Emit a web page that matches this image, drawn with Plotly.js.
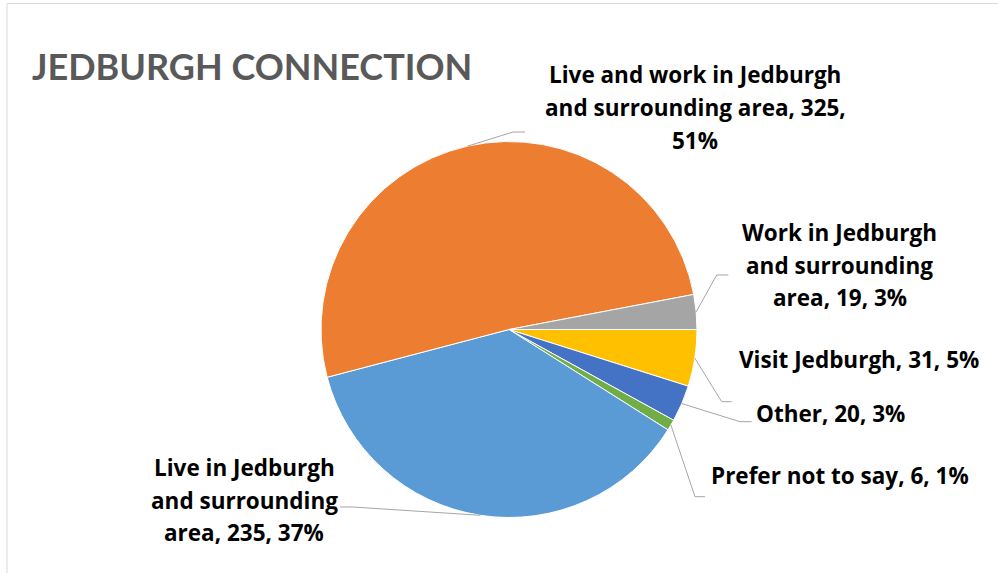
<!DOCTYPE html>
<html><head><meta charset="utf-8">
<script src="https://cdn.plot.ly/plotly-3.0.1.min.js"></script>
<style>html,body{margin:0;padding:0;background:#fff}#chart{width:998px;height:573px}</style>
</head><body><div id="chart"></div>
<script>
// ---- data ----
const categories = ["Visit Jedburgh", "Other", "Prefer not to say",
  "Live in Jedburgh and surrounding area",
  "Live and work in Jedburgh and surrounding area",
  "Work in Jedburgh and surrounding area"];
const values = [31, 20, 6, 235, 325, 19];
const colors = ["#FFC000", "#4472C4", "#70AD47", "#5B9BD5", "#ED7D31", "#A5A5A5"];
const chartTitle = "JEDBURGH CONNECTION";

// ---- layout geometry (pixels) ----
const W = 998, H = 573;
const cx = 509, cy = 329.5, R = 188;
const startAngle = 90;
const lineGap = 32.5;
const yOff = 0;
const labelLayout = [
  {wrap: 30, x: 859,   y: 359.5, elbow: [721.7, 401.7], end: [731.7, 401.7]},
  {wrap: 30, x: 830,   y: 413.5, elbow: [740, 421.7],   end: [751.7, 421.7]},
  {wrap: 30, x: 840,   y: 475.5, elbow: [695, 496.7],   end: [705, 496.7]},
  {wrap: 17, x: 244,   y: 467.5, elbow: [353, 507],     end: [340, 507]},
  {wrap: 27, x: 695,   y: 75,    elbow: [513, 132],     end: [525, 132]},
  {wrap: 18, x: 839.5, y: 232.5, elbow: [716.7, 275],   end: [728.3, 275]}
];

const px = x => x / W;
const py = y => 1 - y / H;
const total = values.reduce((a, b) => a + b, 0);

function wrapText(s, n) {
  const words = s.split(" ");
  const lines = [];
  let cur = "";
  words.forEach(w => {
    if (cur && (cur + " " + w).length > n) { lines.push(cur); cur = w; }
    else cur = cur ? cur + " " + w : w;
  });
  if (cur) lines.push(cur);
  return lines;
}

const annotations = [];
const shapes = [];
let cum = 0;
values.forEach((v, i) => {
  const mid = (startAngle + (cum + v / 2) / total * 360) * Math.PI / 180;
  cum += v;
  const sx = cx + R * Math.sin(mid), sy = cy - R * Math.cos(mid);
  const L = labelLayout[i];
  const pct = Math.round(v / total * 100);
  const text = categories[i] + ", " + v + ", " + pct + "%";
  const lines = wrapText(text, L.wrap);
  lines.forEach((ln, k) => {
    annotations.push({
      xref: "paper", yref: "paper", x: px(L.x), y: py(L.y + k * lineGap + yOff),
      xanchor: "center", yanchor: "middle", showarrow: false,
      text: "<b>" + ln + "</b>",
      font: {family: "'Open Sans', sans-serif", size: 22.5, color: "#000000"}
    });
  });
  shapes.push({
    type: "path", xref: "paper", yref: "paper",
    path: "M " + px(sx) + " " + py(sy) + " L " + px(L.elbow[0]) + " " + py(L.elbow[1]) +
          " L " + px(L.end[0]) + " " + py(L.end[1]),
    line: {color: "#A6A6A6", width: 1}
  });
});

// chart area border
shapes.push({type: "rect", xref: "paper", yref: "paper",
  x0: px(7), x1: 1.05, y0: -0.05, y1: py(3.5),
  line: {color: "#D9D9D9", width: 1}, layer: "below"});

const trace = {
  type: "pie", labels: categories, values: values, sort: false,
  direction: "clockwise", rotation: startAngle,
  marker: {colors: colors, line: {color: "#FFFFFF", width: 1}},
  textinfo: "none", hoverinfo: "label+value+percent",
  domain: {x: [px(cx - R), px(cx + R)], y: [py(cy + R), py(cy - R)]}
};

const layout = {
  width: W, height: H, margin: {l: 0, r: 0, t: 0, b: 0},
  paper_bgcolor: "#FFFFFF", showlegend: false,
  title: {text: "<b>" + chartTitle + "</b>", xref: "paper", yref: "container",
    x: px(32), xanchor: "left", y: 1 - 67 / H, yanchor: "middle",
    font: {family: "Lato, 'Open Sans', sans-serif", size: 36, color: "#595959"}},
  annotations: annotations, shapes: shapes
};

Plotly.newPlot("chart", [trace], layout, {displayModeBar: false, staticPlot: true});
</script></body></html>
